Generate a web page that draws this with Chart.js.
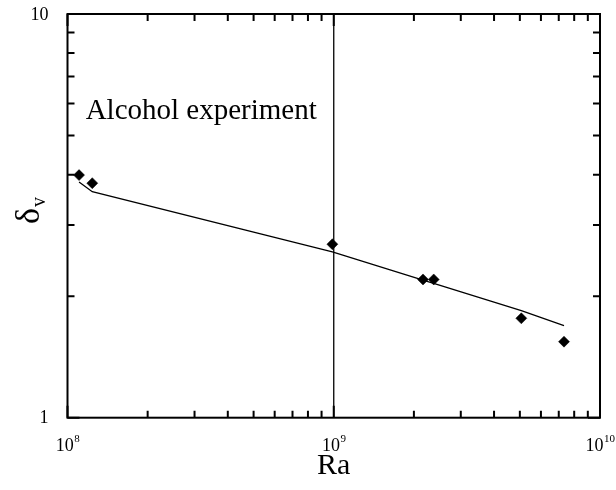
<!DOCTYPE html>
<html>
<head>
<meta charset="utf-8">
<script src="https://cdn.jsdelivr.net/npm/chart.js@4"></script>
<style>
  html, body { margin: 0; padding: 0; background: #fff; }
  canvas { display: block; }
</style>
</head>
<body>
<canvas id="graph" width="616" height="490"></canvas>
<script>
// Rayleigh number of each run and the measured layer thickness
const ra = [1.105e8, 1.239e8, 9.88e8, 2.164e9, 2.374e9, 5.064e9, 7.325e9];
const deltaV = [3.99, 3.81, 2.69, 2.20, 2.20, 1.763, 1.543];
// fitted curve, evaluated at the same Ra
const deltaFit = [3.836, 3.629, 2.574, 2.191, 2.150, 1.841, 1.690];

const xTicks = [1e8, 1e9, 1e10];
const xTickExp = ['8', '9', '10'];
const yTicks = [1, 10];
const yTickLabels = ['1', '10'];
const markRa = 1e9;
const note = 'Alcohol experiment';

const serif = '"Liberation Serif", "Times New Roman", serif';

// box, inward ticks and all the text
const frame = {
  id: 'frame',
  afterDraw(chart) {
    const { ctx, chartArea: a, scales: { x, y } } = chart;
    ctx.save();
    ctx.strokeStyle = '#000';
    ctx.lineWidth = 2;
    ctx.strokeRect(a.left, a.top, a.right - a.left, a.bottom - a.top);

    ctx.beginPath();
    for (let d = 1e8; d < 1e10; d *= 10) {
      for (let k = 1; k <= 10; k++) {
        const px = x.getPixelForValue(d * k);
        const len = (k === 1 || k === 10) ? 12 : 7;
        ctx.moveTo(px, a.bottom); ctx.lineTo(px, a.bottom - len);
        ctx.moveTo(px, a.top); ctx.lineTo(px, a.top + len);
      }
    }
    for (let k = 1; k <= 10; k++) {
      const py = y.getPixelForValue(k);
      const len = (k === 1 || k === 10) ? 12 : 7;
      ctx.moveTo(a.left, py); ctx.lineTo(a.left + len, py);
      ctx.moveTo(a.right, py); ctx.lineTo(a.right - len, py);
    }
    ctx.stroke();

    ctx.fillStyle = '#000';
    // y tick labels
    ctx.font = '18px ' + serif;
    ctx.textAlign = 'right';
    ctx.textBaseline = 'middle';
    yTicks.forEach((v, i) => ctx.fillText(yTickLabels[i], a.left - 19, y.getPixelForValue(v) + 1));

    // x tick labels, 10 with a raised exponent
    ctx.textBaseline = 'alphabetic';
    ctx.textAlign = 'left';
    xTicks.forEach((v, i) => {
      ctx.font = '18px ' + serif;
      const wb = ctx.measureText('10').width;
      ctx.font = '11px ' + serif;
      const we = ctx.measureText(xTickExp[i]).width;
      const x0 = x.getPixelForValue(v) - (wb + we) / 2;
      ctx.font = '18px ' + serif;
      ctx.fillText('10', x0, a.bottom + 33);
      ctx.font = '11px ' + serif;
      ctx.fillText(xTickExp[i], x0 + wb + 0.5, a.bottom + 24);
    });

    // axis titles
    ctx.font = '30px ' + serif;
    ctx.textAlign = 'center';
    ctx.fillText('Ra', (a.left + a.right) / 2, a.bottom + 56);

    ctx.save();
    ctx.translate(39, 224);
    ctx.rotate(-Math.PI / 2);
    ctx.textAlign = 'left';
    ctx.font = '34px ' + serif;
    ctx.fillText('δ', 0, 0);
    const wd = ctx.measureText('δ').width;
    ctx.font = '20px ' + serif;
    ctx.fillText('v', wd + 1, 6);
    ctx.restore();

    // annotation inside the plot
    ctx.font = '29px ' + serif;
    ctx.textAlign = 'left';
    ctx.fillText(note, x.getPixelForValue(1.17e8), y.getPixelForValue(5.5));
    ctx.restore();
  }
};

new Chart(document.getElementById('graph'), {
  type: 'scatter',
  data: {
    datasets: [
      {
        label: 'data',
        data: ra.map((r, i) => ({ x: r, y: deltaV[i] })),
        pointStyle: 'rectRot',
        pointRadius: 5.5,
        backgroundColor: '#000',
        borderColor: '#000',
        borderWidth: 0.5,
        showLine: false
      },
      {
        label: 'fit',
        data: ra.map((r, i) => ({ x: r, y: deltaFit[i] })),
        showLine: true,
        pointRadius: 0,
        borderColor: '#000',
        borderWidth: 1.3,
        fill: false
      },
      {
        label: 'Ra = 1e9',
        data: [{ x: markRa, y: 1 }, { x: markRa, y: 10 }],
        showLine: true,
        pointRadius: 0,
        borderColor: '#000',
        borderWidth: 1.3,
        fill: false
      }
    ]
  },
  options: {
    responsive: false,
    animation: false,
    layout: { padding: { left: 0, top: 14, right: 16, bottom: 0 } },
    plugins: { legend: { display: false }, tooltip: { enabled: false } },
    scales: {
      x: {
        type: 'logarithmic',
        min: 1e8,
        max: 1e10,
        grid: { display: false },
        border: { display: false },
        ticks: { display: false },
        afterFit: s => { s.height = 72.3; }
      },
      y: {
        type: 'logarithmic',
        min: 1,
        max: 10,
        grid: { display: false },
        border: { display: false },
        ticks: { display: false },
        afterFit: s => { s.width = 67.5; }
      }
    }
  },
  plugins: [frame]
});
</script>
</body>
</html>
